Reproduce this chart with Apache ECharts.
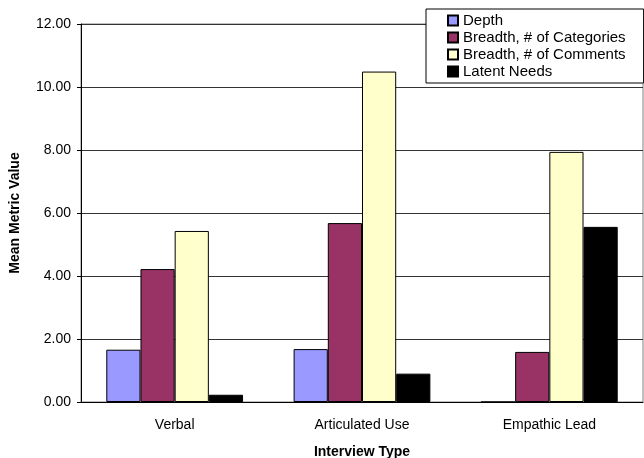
<!DOCTYPE html>
<html>
<head>
<meta charset="utf-8">
<script src="https://cdn.jsdelivr.net/npm/echarts@6/dist/echarts.min.js"></script>
<style>
  html, body { margin: 0; padding: 0; background: #fff; }
  #chart { width: 644px; height: 458px; }
</style>
</head>
<body>
<div id="chart"></div>
<script>
// Interview types on the category axis
const categories = ['Verbal', 'Articulated Use', 'Empathic Lead'];

// Mean metric values per interview type
const depth = [1.66, 1.68, 0];
const breadthCategories = [4.22, 5.68, 1.59];
const breadthComments = [5.43, 10.49, 7.94];
const latentNeeds = [0.23, 0.90, 5.56];

const seriesNames = ['Depth', 'Breadth, # of Categories', 'Breadth, # of Comments', 'Latent Needs'];
const seriesValues = [depth, breadthCategories, breadthComments, latentNeeds];
const seriesColors = ['#9999FF', '#993366', '#FFFFCC', '#000000'];

const FONT = '"Liberation Sans", Arial, sans-serif';

const chart = echarts.init(document.getElementById('chart'), null, { renderer: 'canvas' });

chart.setOption({
  animation: false,
  backgroundColor: '#ffffff',
  textStyle: { fontFamily: FONT, color: '#000' },
  grid: {
    left: 81, right: 1, top: 24, bottom: 56,
    outerBoundsMode: 'none',
    containLabel: false,
    show: true,
    borderColor: '#808080',
    borderWidth: 1,
    backgroundColor: 'transparent'
  },
  legend: {
    orient: 'vertical',
    left: 426,
    top: 9,
    padding: [4, 18, 4, 21],
    itemGap: 2,
    itemWidth: 10,
    itemHeight: 10,
    icon: 'rect',
    backgroundColor: '#ffffff',
    borderColor: '#000000',
    borderWidth: 1,
    borderRadius: 0,
    textStyle: { fontFamily: FONT, fontSize: 15, color: '#000' },
    data: seriesNames
  },
  xAxis: {
    type: 'category',
    data: categories,
    name: 'Interview Type',
    nameLocation: 'middle',
    nameGap: 43,
    nameTextStyle: { fontFamily: FONT, fontSize: 14, fontWeight: 'bold', color: '#000' },
    axisLine: { lineStyle: { color: '#000', width: 1 } },
    axisTick: { show: false },
    axisLabel: { fontFamily: FONT, fontSize: 14, color: '#000', margin: 16 }
  },
  yAxis: {
    type: 'value',
    min: 0,
    max: 12,
    interval: 2,
    name: 'Mean Metric Value',
    nameLocation: 'middle',
    nameGap: 59,
    nameTextStyle: { fontFamily: FONT, fontSize: 14, fontWeight: 'bold', color: '#000' },
    axisLine: { show: true, lineStyle: { color: '#000', width: 1 } },
    axisTick: { show: true, length: 4, lineStyle: { color: '#000' } },
    axisLabel: {
      fontFamily: FONT, fontSize: 14, color: '#000', margin: 10,
      formatter: v => v.toFixed(2)
    },
    splitLine: { show: true, lineStyle: { color: '#333', width: 1 } }
  },
  series: seriesNames.map((name, i) => ({
    name: name,
    type: 'bar',
    data: seriesValues[i],
    barGap: '0%',
    barCategoryGap: '27%',
    itemStyle: { color: seriesColors[i], borderColor: '#000', borderWidth: 1 },
    emphasis: { disabled: true }
  }))
});
</script>
</body>
</html>
